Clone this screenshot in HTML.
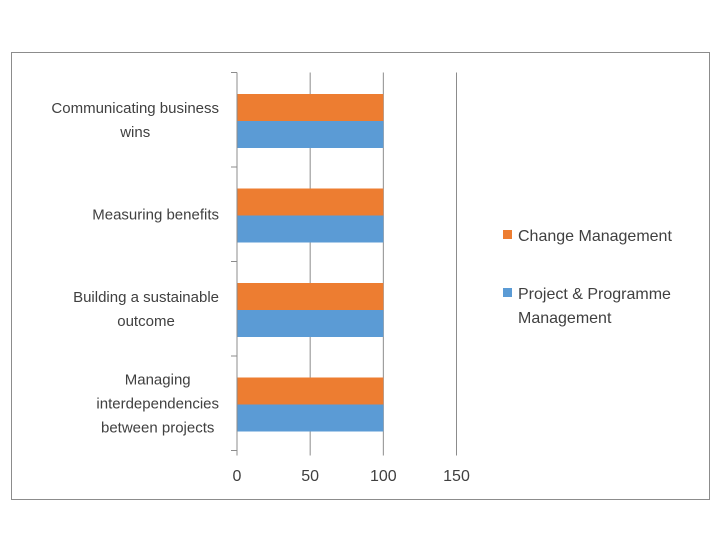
<!DOCTYPE html>
<html><head><meta charset="utf-8"><style>
body{margin:0;background:#fff;width:720px;height:540px;overflow:hidden}
svg{font-family:"Liberation Sans",sans-serif}
</style></head><body>
<svg width="720" height="540">
<script>
const categories=["Communicating business wins","Measuring benefits","Building a sustainable outcome","Managing interdependencies between projects"];
const changeMgmt=[100,100,100,100];
const projectMgmt=[100,100,100,100];
const ticks=[0,50,100,150];
</script>
<rect x="11.5" y="52.5" width="698" height="447" fill="#fff" stroke="#8c8c8c"/>
<g id="g"></g>
<text x="518" y="241" font-size="16" fill="#404040">Change Management</text>
<rect x="503" y="230" width="9" height="9" fill="#ed7d31"/>
<text x="518" y="299" font-size="16" fill="#404040"><tspan x="518">Project &amp; Programme</tspan><tspan x="518" dy="24">Management</tspan></text>
<rect x="503" y="288" width="9" height="9" fill="#5b9bd5"/>
<script>
const NS="http://www.w3.org/2000/svg",g=document.getElementById('g');
const x0=237,x1=456.5,yT=72.5,yB=450.5;
const xs=v=>x0+(v-0)/(150-0)*(x1-x0);
const band=(yB-yT)/categories.length;
function mk(t,a){const e=document.createElementNS(NS,t);for(const k in a)e.setAttribute(k,a[k]);g.appendChild(e);return e;}
ticks.forEach(t=>{
 const gl=mk('line',{x1:xs(t),x2:xs(t),y1:yT,y2:yB+5,stroke:'#8c8c8c'});
 
 
 const tx=mk('text',{x:xs(t),y:481,'font-size':16,'text-anchor':'middle',fill:'#404040'});tx.textContent=t;
 
 
});
for(let i=0;i<=categories.length;i++){
 const l=mk('line',{x1:x0-6,x2:x0,y1:yT+i*band,y2:yT+i*band,stroke:'#8c8c8c'});
 
 
}
const lines=[["Communicating business","wins"],["Measuring benefits"],["Building a sustainable","outcome"],["Managing","interdependencies","between projects"]];
categories.forEach((c,i)=>{
 const top=yT+i*band,bh=27,off=21.5;
 const o=mk('rect',{x:x0,y:top+off,width:xs(changeMgmt[i])-x0,height:bh,fill:'#ed7d31'});
 
 
 const b=mk('rect',{x:x0,y:top+off+bh,width:xs(projectMgmt[i])-x0,height:bh,fill:'#5b9bd5'});
 
 
 const L=lines[i],mid=top+band/2,lh=24;
 const t=mk('text',{x:146,'font-size':15,'text-anchor':'middle',fill:'#404040'});
 
 
 const spans=[];
 L.forEach((s,j)=>{const ts=document.createElementNS(NS,'tspan');ts.setAttribute('y',mid-(L.length-1)*lh/2+j*lh+5);ts.textContent=s;t.appendChild(ts);spans.push(ts);});
 let w=0;spans.forEach(s=>{w=Math.max(w,s.getComputedTextLength());});
 const cx=219-w/2;
 spans.forEach(s=>s.setAttribute('x',cx));
});
const ax=mk('line',{x1:x0,x2:x0,y1:yT,y2:yB,stroke:'#8c8c8c'});


</script>
</svg>
</body></html>
